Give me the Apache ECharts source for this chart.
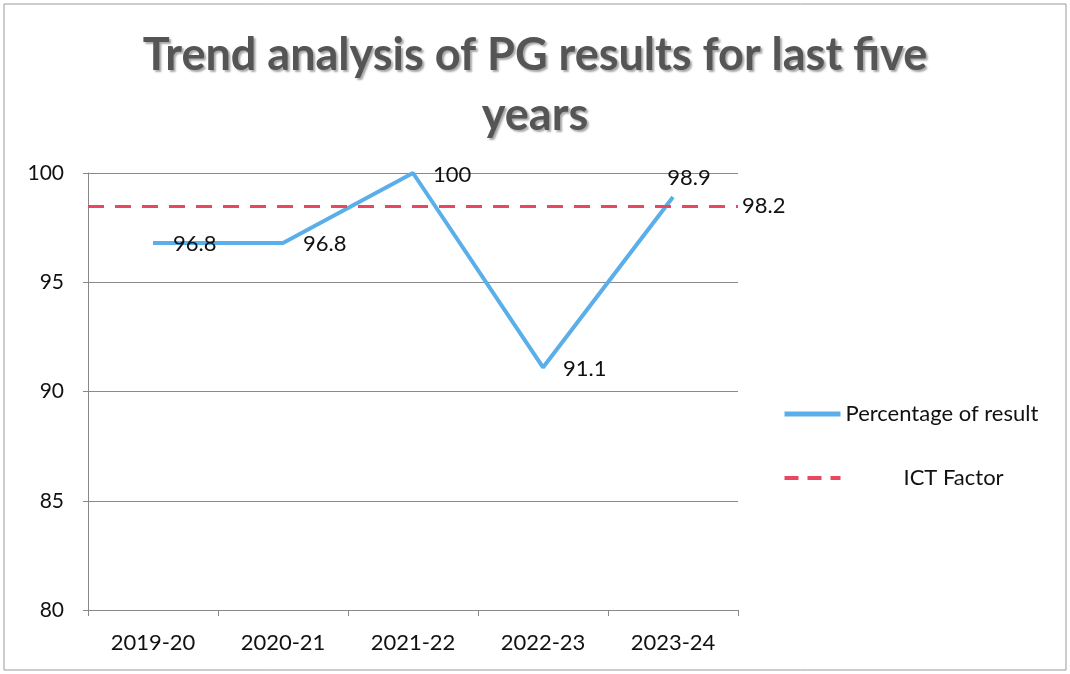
<!DOCTYPE html>
<html>
<head>
<meta charset="utf-8">
<script src="https://cdn.jsdelivr.net/npm/echarts@6/dist/echarts.min.js"></script>
<style>
  html, body { margin: 0; padding: 0; background: #fff; }
  #chart { width: 1070px; height: 674px; }
</style>
</head>
<body>
<div id="chart"></div>
<script>
// 数据
const years = ['2019-20', '2020-21', '2021-22', '2022-23', '2023-24']
const percentage = [96.8, 96.8, 100, 91.1, 98.9]
const ictValue = 98.5      // where the dashed line sits in the picture
const ictLabel = '98.2'    // text printed beside it
const yTicks = [80, 85, 90, 95, 100]

const font = 'Lato, "Open Sans", sans-serif'

const chart = echarts.init(document.getElementById('chart'))

// label position per point: last one sits above
const lineData = percentage.map((v, i) => ({
  value: v,
  label: i === percentage.length - 1
    ? { position: 'top', offset: [16, 12] }
    : { position: 'right', offset: i === 2 ? [0, 2] : [0, 1] }
}))

const option = {
  animation: false,
  backgroundColor: '#fff',
  title: {
    text: 'Trend analysis of PG results for last five\nyears',
    left: 'center',
    top: 20,
    textStyle: {
      fontFamily: font,
      fontWeight: 'bold',
      fontSize: 45,
      lineHeight: 60,
      color: '#555',
      textShadowColor: 'rgba(0,0,0,0.35)',
      textShadowOffsetX: 2,
      textShadowOffsetY: 2,
      textShadowBlur: 2
    }
  },
  grid: {
    left: 88,
    right: 332,
    top: 173,
    bottom: 64
  },
  legend: {
    orient: 'vertical',
    left: 777,
    top: 398,
    itemGap: 42,
    itemWidth: 56,
    itemHeight: 14,
    textStyle: { fontFamily: font, fontSize: 22, color: '#111' },
    data: [
      {
        name: 'Percentage of result',
        itemStyle: { opacity: 0 },
        lineStyle: { width: 5, color: '#5aaeea' }
      },
      {
        name: 'ICT Factor',
        itemStyle: { opacity: 0 },
        lineStyle: { width: 4, color: '#e8475f', type: [14, 9] },
        textStyle: { padding: [0, 0, 0, 58] }
      }
    ]
  },
  xAxis: {
    type: 'category',
    data: years,
    boundaryGap: true,
    axisLine: { lineStyle: { color: '#888', width: 1 } },
    axisTick: { show: true, alignWithLabel: false, length: 6, lineStyle: { color: '#888' } },
    axisLabel: { fontFamily: font, fontSize: 22, color: '#111', margin: 22 }
  },
  yAxis: {
    type: 'value',
    min: 80,
    max: 100,
    interval: 5,
    axisLine: { show: true, lineStyle: { color: '#888', width: 1 } },
    axisTick: { show: true, length: 5, lineStyle: { color: '#888' } },
    axisLabel: {
      fontFamily: font, fontSize: 21, color: '#111', margin: 24,
      formatter: v => yTicks.includes(v) ? String(v) : ''
    },
    splitLine: { show: true, lineStyle: { color: '#8a8a8a', width: 1 } }
  },
  series: [
    {
      name: 'Percentage of result',
      type: 'line',
      data: lineData,
      symbol: 'circle',
      symbolSize: 0.1,
      showSymbol: true,
      lineStyle: { color: '#5aaeea', width: 4 },
      itemStyle: { color: '#5aaeea' },
      label: {
        show: true,
        fontFamily: font,
        fontSize: 22,
        color: '#111',
        distance: 20
      }
    },
    {
      name: 'ICT Factor',
      type: 'line',
      data: [],
      symbol: 'none',
      lineStyle: { color: '#e8475f', width: 3, type: [16, 11] },
      itemStyle: { color: '#e8475f' },
      markLine: {
        silent: true,
        symbol: 'none',
        lineStyle: { color: '#e8475f', width: 3, type: [16, 11] },
        label: {
          show: true,
          position: 'end',
          formatter: ictLabel,
          fontFamily: font,
          fontSize: 22,
          color: '#111',
          distance: 4
        },
        data: [{ yAxis: ictValue }]
      }
    }
  ],
  graphic: [
    {
      type: 'rect',
      shape: { x: 4, y: 4, width: 1062, height: 666 },
      style: { fill: 'none', stroke: '#9a9a9a', lineWidth: 1 },
      silent: true
    }
  ]
}

chart.setOption(option)
</script>
</body>
</html>
